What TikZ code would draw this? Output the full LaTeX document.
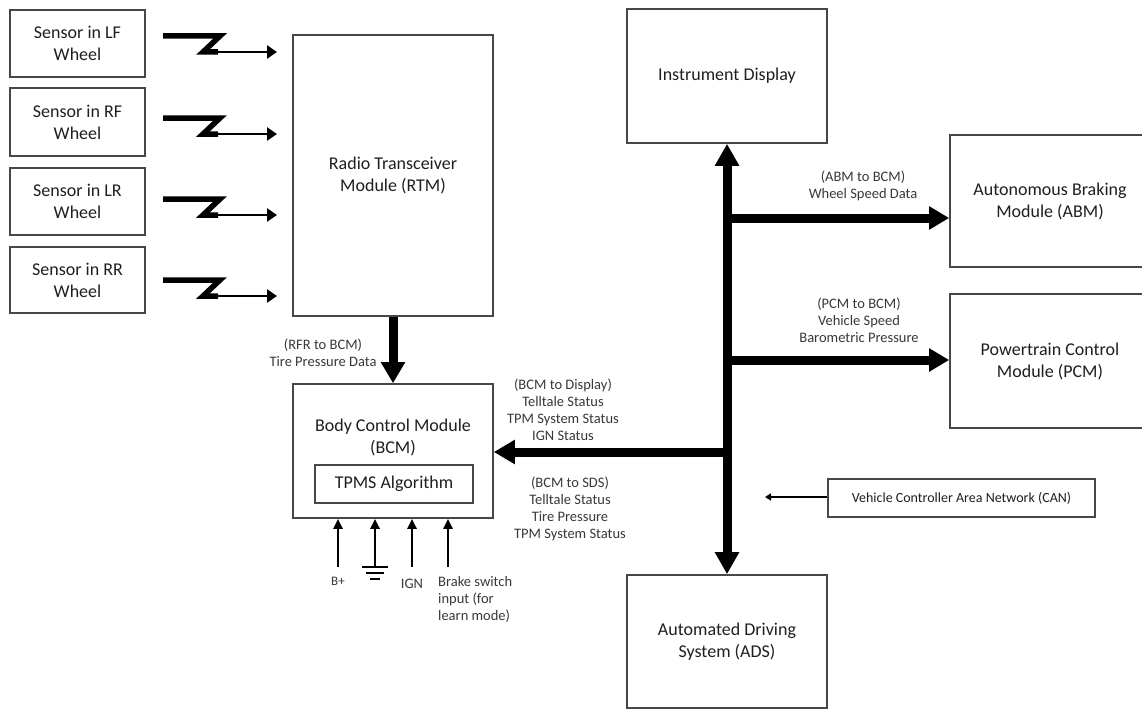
\documentclass[tikz,border=0pt]{standalone}
\usepackage{fontspec}
\setmainfont{Carlito}
\usetikzlibrary{arrows.meta,calc}
\tikzset{
  box/.style={draw=black!72, line width=1.6pt, fill=white, inner sep=0pt, align=center,
    text=black!88, font=\fontsize{18}{22}\selectfont},
  lbl/.style={align=center, text=black!78, inner sep=0pt, font=\fontsize{14.5}{17}\selectfont},
  bigarrow/.style={line width=9pt, -{Triangle[width=23pt,length=21pt]}},
  busline/.style={line width=9pt, {Triangle[width=23pt,length=22pt]}-{Triangle[width=23pt,length=22pt]}},
  zig/.style={line width=5.5pt, line join=miter},
  wl/.style={line width=2.6pt, -{Triangle[width=13pt,length=10pt]}},
  inp/.style={line width=2.6pt, -{Triangle[width=9pt,length=10pt]}},
  canarrow/.style={line width=2.4pt, -{Triangle[width=7pt,length=6pt]}},
}
\begin{document}
\begin{tikzpicture}[x=1pt,y=-1pt]
\useasboundingbox (0,0) rectangle (1142,709);
\clip (0,0) rectangle (1142,709);

% sensors
\node[box, minimum width=135pt, minimum height=67pt] (LF) at (77.5,43.5) {Sensor in LF\\Wheel};
\node[box, minimum width=135pt, minimum height=68pt] (RF) at (77.5,122) {Sensor in RF\\Wheel};
\node[box, minimum width=135pt, minimum height=67pt] (LR) at (77.5,201.5) {Sensor in LR\\Wheel};
\node[box, minimum width=135pt, minimum height=66pt] (RR) at (77.5,280) {Sensor in RR\\Wheel};

% RTM
\node[box, minimum width=200pt, minimum height=281pt] (RTM) at (393,175.5) {Radio Transceiver\\Module (RTM)};

% BCM
\node[box, minimum width=200pt, minimum height=134pt] (BCM) at (393,451) {};
\node[box, draw=none, fill=none] (BCMt) at (393,437) {Body Control Module\\(BCM)};
\node[box, minimum width=158pt, minimum height=38pt] (TPMS) at (394,484) {TPMS Algorithm};

% right side boxes
\node[box, minimum width=200pt, minimum height=134pt] (ID) at (727,76) {Instrument Display};
\node[box, minimum width=200pt, minimum height=132pt] (ABM) at (1050,201) {Autonomous Braking\\Module (ABM)};
\node[box, minimum width=200pt, minimum height=134pt] (PCM) at (1050,361) {Powertrain Control\\Module (PCM)};
\node[box, minimum width=200pt, minimum height=133pt] (ADS) at (727,641.5) {Automated Driving\\System (ADS)};
\node[box, minimum width=267pt, minimum height=38pt, font=\fontsize{14}{17}\selectfont] (CAN) at (961.5,498) {Vehicle Controller Area Network (CAN)};

% wireless links
\foreach \n/\yy in {a/52,b/134,c/215,d/296}{
  \coordinate (zs\n) at (163,\yy-16);
  \coordinate (zt\n) at (220,\yy-16);
  \coordinate (zb\n) at (203,\yy);
  \coordinate (zm\n) at (218,\yy);
  \coordinate (ze\n) at (277,\yy);
  \draw[zig] (zs\n) -- (zt\n) -- (zb\n) -- (zm\n);
  \draw[wl] ($(zb\n)+(8,0)$) -- (ze\n);
}

% RTM -> BCM
\draw[bigarrow] (RTM.south) -- (BCM.north);
\node[lbl] (rfr) at (323,352.5) {(RFR to BCM)\\Tire Pressure Data};

% bus
\draw[busline] (ID.south) -- (ADS.north);
\coordinate (b1) at (727,218);
\coordinate (b2) at (727,360);
\coordinate (b3) at (727,452);
\draw[bigarrow, -{Triangle[width=22pt,length=20pt]}] (b1) -- (b1 -| ABM.west);
\draw[bigarrow, -{Triangle[width=22pt,length=20pt]}] (b2) -- (b2 -| PCM.west);
\draw[bigarrow] (b3) -- (b3 -| BCM.east);

\node[lbl] (labm) at (863,185.5) {(ABM to BCM)\\Wheel Speed Data};
\node[lbl] (lpcm) at (859,320) {(PCM to BCM)\\Vehicle Speed\\Barometric Pressure};
\node[lbl] (ldisp) at (563,410) {(BCM to Display)\\Telltale Status\\TPM System Status\\IGN Status};
\node[lbl] (lsds) at (570,508.5) {(BCM to SDS)\\Telltale Status\\Tire Pressure\\TPM System Status};

% CAN arrow
\coordinate (canend) at (765,497);
\draw[canarrow] (CAN.west |- canend) -- (canend);

% BCM inputs
\coordinate (ib) at (338,567);
\coordinate (ig) at (375,567);
\coordinate (ii) at (412,567);
\coordinate (ik) at (448,567);
\draw[inp] (ib) -- (ib |- BCM.south);
\draw[inp] (ig) -- (ig |- BCM.south);
\draw[inp] (ii) -- (ii |- BCM.south);
\draw[inp] (ik) -- (ik |- BCM.south);
\draw[line width=2.2pt] ($(ig)+(-13,0)$) -- ($(ig)+(13,0)$);
\draw[line width=2.2pt] ($(ig)+(-9,6)$) -- ($(ig)+(9,6)$);
\draw[line width=2.2pt] ($(ig)+(-5,12)$) -- ($(ig)+(5,12)$);

\node[lbl, font=\fontsize{13}{17}\selectfont] (lbp) at (338,581) {B+};
\node[lbl] (lign) at (412,584) {IGN};
\node[lbl, align=left, anchor=north west] (lbrk) at (438,576) {Brake switch\\input (for\\learn mode)};
\end{tikzpicture}
\end{document}
